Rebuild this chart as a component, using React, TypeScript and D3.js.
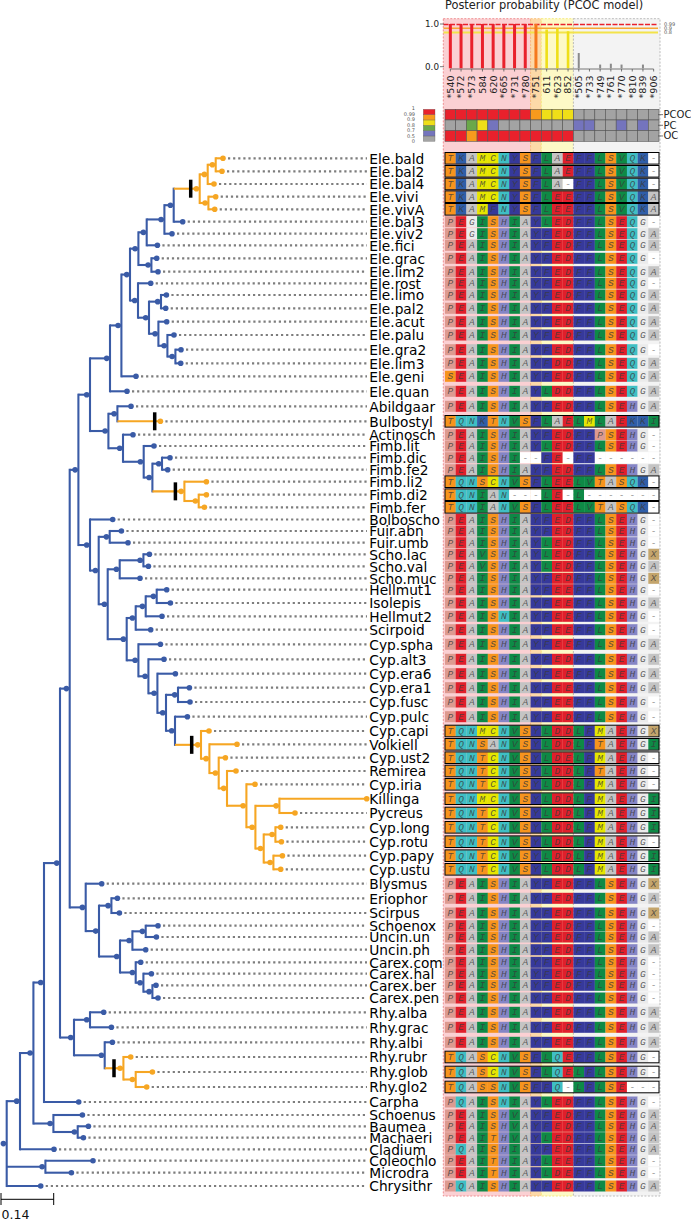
import React from "react";
import * as d3 from "d3";

// ---------- alignment rows ----------
const taxa = ["Ele.bald","Ele.bal2","Ele.bal4","Ele.vivi","Ele.vivA","Ele.bal3","Ele.viv2","Ele.fici","Ele.grac","Ele.lim2","Ele.rost","Ele.limo","Ele.pal2","Ele.acut","Ele.palu","Ele.gra2","Ele.lim3","Ele.geni","Ele.quan","Abildgaar","Bulbostyl","Actinosch","Fimb.lit","Fimb.dic","Fimb.fe2","Fimb.li2","Fimb.di2","Fimb.fer","Bolboscho","Fuir.abn","Fuir.umb","Scho.lac","Scho.val","Scho.muc","Hellmut1","Isolepis","Hellmut2","Scirpoid","Cyp.spha","Cyp.alt3","Cyp.era6","Cyp.era1","Cyp.fusc","Cyp.pulc","Cyp.capi","Volkiell","Cyp.ust2","Remirea","Cyp.iria","Killinga","Pycreus","Cyp.long","Cyp.rotu","Cyp.papy","Cyp.ustu","Blysmus","Eriophor","Scirpus","Schoenox","Uncin.un","Uncin.ph","Carex.com","Carex.hal","Carex.ber","Carex.pen","Rhy.alba","Rhy.grac","Rhy.albi","Rhy.rubr","Rhy.glob","Rhy.glo2","Carpha","Schoenus","Baumea","Machaeri","Cladium","Coleochlo","Microdra","Chrysithr"];

const taxonRows = [158.3,171.3,184,196.7,209.3,221.7,233.7,245.3,258.3,271.7,283.3,295,308.3,321.7,335,349.7,363.3,376.3,391.3,406.3,421.3,434.7,446,457.7,469.7,481.7,494.7,507.3,519.5,531,542.7,554.3,566.3,578.3,589.7,603,616.3,629.7,644.3,659.3,673.7,687.7,702,716.7,731,744.3,757.7,771,784.3,798.7,813,827.3,841.7,855.7,869.3,883.7,898.3,913,925.7,937,949.7,962.3,973.7,985.3,998,1012.3,1027.3,1042.3,1057,1072,1087,1102,1115,1126.3,1137.7,1149.3,1160.7,1172.7,1186];

const sequences = ["TKAMCNYSFLAEFFLSVQK-","TKAMCNYSFLAEFFLSVQK-","TKAMCNYSFLA-FFLSVQK-","TKAMCNYSFLEEFFLSVQKA","TKAMFNYSFLEEFFLSVQKA","PEGISHIAYLEDFFLSEQG-","PEGISHIAYFEDFFLSEQGA","PEAISHIAYFEDFFLSEQGA","PEAISHIAYFEDFFLSEQG-","PEAISHIAYFEDFFLSEQGA","PEAISHIAYFEDFFLSEQG-","PEAISHIAYFEDFFLSEQGA","PEAISHIAYFEDFFLSEQGA","PEAISHIAYFEDFFLSEQGA","PEAISHIAYFEDFFLSEQGA","PEAISHIAYFEDFFLSEQG-","PEAISHIAYFDDFFLSEQGA","SEAISHIAYFEDFFLSEQGA","PEAISHIAYLDDFFLSEQGA","PEAISHIAYFEDFFLSEHGA","TQNKTNVSFLAELMLAEKKI","PEAISHIAYFEDFFPSEHG-","PEAISHIAYLEDFFLSEHG-","PEAISHI--FE-FF------","PEAISHIAYFEDFFLSEHGA","TQNSCNVSFLEELVTASQK-","TQNIAN---LE-L-------","TQNIANVSFLEELVTASQK-","PEAISHIAYFEDFFLSEHG-","PEAISHIAYFEDFFLSEHG-","PEAISHIAYLEDFFLSEHG-","PEAVSHIAYLEDFFLSEHGX","PEAVSHIAYLEDFFLSEHGA","PEAISHIAYFEDFFLSEHGX","PEAISHIAYFEEFFLSEHG-","PEAISHIAYFEEFFLSEHGA","PEAISNIAYFEEFFLSEHG-","PEAISHIAYFEEFFLSEHG-","PEAISHIAYFEEFFLSEHGA","PEAISHIAYFEDFFLSEHGA","PEAISHIAYFEEFFLSEHGA","PEAISHIAYFEEFFLSEHGA","PEAISHIAYFEEFFLSEHG-","PEAISHIAYFEDFFLSEHG-","TQNMCNVSYLDDLFMAEHGX","TQNSANVSYLDDLFTAEHGI","TQNTCNVSYLDELFMAEHG-","TQNTCNVSYLDDLFTAEHG-","TQNTCNVSYLDDLFMAEHG-","TQNMCNVSYLDDLFMAEHGI","TQNTCNVSYLDDLFMAEHGI","TQNTCNVSYLDDLFMAEHGI","TQNTCNVSYLDDLFMAEHG-","TQNTCNVSYLDDLFMAEHGI","TQNTCNVSYLDDLFMAEHGI","PEAISHIAYFEDFFLSEHGX","PEAISHIAYFEDFFLSEHGA","PEAISHIAYFEDFFLSEHGX","PEAISHIAYFEDFFLSEHG-","PEAISHIAYFEDFFLSEHGA","PEAISHIAYFEDFFLSEHGA","PEAISHIAYFEDFFLSEHG-","PEAISHIAYFEDFFLSEHG-","PEAISHIAYFEDFFLSEHG-","PEAISHIAYFEDFFLSEHG-","PEAISHIAYFEDFFLSEHGA","PEAISHIAYFEDFFLSEHGA","PEAISHIAYFEEFFLSEHGA","TQASCNVSFLQEFFLSEHG-","TQASCNVSFLQELFLSEHG-","TQASSNVSFFQ-LFLSE---","PQAISNIAYLEDFFLSEHG-","PEAISHVAYFEDFFLSEHGA","PEAISHVAYFEDFFLSEHGA","PEAITHVAYLEDFFLSEHGA","PQAISHIAYFEDFFLSEHGA","PEAITHIAYLEEFFLSEHG-","PEAITHIAYLDEFFLSEHG-","PQAISHIAYFEDFFLSEHGA"];

// ---------- site panels ----------
const sites = ["*540","*572","*573","584","620","*665","*731","*780","*751","611","*623","852","*505","*733","*749","*761","*770","*810","*839","*906"];
const posterior = [1,1,1,1,1,1,1,1,1,0.87,0.9,0.83,0.32,0,0.05,0.07,0.05,0,0.05,0];
const pcocScore = [1,1,1,1,1,1,1,1,0.95,0.85,0.85,0.85,0.2,0.2,0.2,0.2,0.2,0.2,0.2,0.2];
const pcScore = [0.2,0.2,0.75,0.85,0.6,0.2,0.2,0.2,0.2,0.2,0.2,0.2,0.6,0.6,0.2,0.2,0.6,0.2,0.6,0.2];
const ocScore = [1,1,0.95,1,1,1,1,1,1,1,1,1,0.2,0.2,0.2,0.2,0.2,0.2,0.2,0.2];
const modelRows = ["PCOC","PC","OC"];
const thresholds = [0.99,0.9,0.8];
const legendBreaks = ["1","0.99","0.9","0.8","0.7","0.5","0"];
const scoreCuts = [0.5,0.7,0.8,0.9,0.99];
const scoreColours = ["#a3a3a3","#7474bd","#6aa84a","#efdf18","#f79a1d","#e9212c"];
const thresholdColours = ["#e9212c","#f7a632","#f3e34a"];
const siteBands = [
  { from: 0, to: 8, fill: "#fbd0d3", edge: "#ee8f92" },
  { from: 8, to: 9, fill: "#fdd9a8", edge: "#f9c07a" },
  { from: 9, to: 12, fill: "#fdf9c6", edge: "#f4e97e" },
  { from: 12, to: 20, fill: "#f3f3f3", edge: "#bcbcbc" },
];

const residueColours: Record<string, string> = {
  T: "#f7941d", S: "#f7941d", K: "#2f5ea8", A: "#c4c4c4", M: "#e6e600", C: "#e6e600",
  N: "#3fbfc4", Q: "#3fbfc4", Y: "#36399b", F: "#36399b", L: "#0e8a46", V: "#0e8a46",
  I: "#0e8a46", E: "#e01f2b", D: "#e01f2b", P: "#dd9a90", H: "#8585c5", G: "#ebebeb",
  X: "#c4a56c", "-": "#ffffff",
};

// ---------- tree: branch depth in scale units, 53 units = 0.14 substitutions ----------
type Node = { name?: string; depth: number; kids: Node[]; shift?: number; y?: number; fg?: boolean };
const L = (name: string, depth: number): Node => ({ name, depth, kids: [] });
const N = (depth: number, ...kids: Node[]): Node => ({ depth, kids });
const S = (shift: number, n: Node): Node => ({ ...n, shift });

const tree = N(6,
  N(19.3,
    N(32.7,
      N(43.3,
        N(59.3,
          N(69,
            N(77.7,
              N(89.3,
                N(109.3,
                  N(120.7,
                    N(129.3,
                      N(137.7,
                        N(146,
                          N(163.7,
                            N(173,
                              S(190, N(199,
                                N(207, N(215, L("Ele.bald",222.3), L("Ele.bal2",221.3)), L("Ele.bal4",213.3)),
                                N(207.7, L("Ele.vivi",215), L("Ele.vivA",214)))),
                              L("Ele.bal3",182)),
                            L("Ele.viv2",171.3)),
                          L("Ele.fici",156.7)),
                        N(150.7, L("Ele.grac",156), L("Ele.lim2",157.3))),
                      N(137.3,
                        L("Ele.rost",150),
                        N(148.3,
                          N(160.3, L("Ele.limo",165.7), L("Ele.pal2",165)),
                          N(157.7,
                            L("Ele.acut",166),
                            N(166.7, L("Ele.palu",173.3),
                              N(174.7, L("Ele.gra2",180.3), L("Ele.lim3",180))))))),
                    L("Ele.geni",135.3)),
                  L("Ele.quan",126.3)),
                N(107.7,
                  N(116.7, L("Abildgaar",130.3), S(154, L("Bulbostyl",159.7))),
                  N(122.3,
                    L("Actinosch",132.3),
                    N(143,
                      L("Fimb.lit",153.3),
                      N(151.7,
                        N(161.3, L("Fimb.dic",169.3), L("Fimb.fe2",167)),
                        S(174.7, N(183.7,
                          L("Fimb.li2",205.7),
                          N(198, L("Fimb.di2",205.7), L("Fimb.fer",203.7))))))))),
              N(89.3,
                L("Bolboscho",112),
                N(98,
                  N(109, L("Fuir.abn",120.7), L("Fuir.umb",127.3)),
                  N(107,
                    N(119, N(142.7, L("Scho.lac",148.7), L("Scho.val",147.7)), L("Scho.muc",139.3)),
                    N(126,
                      N(135,
                        N(145, N(156, L("Hellmut1",166), L("Isolepis",169.7)), L("Hellmut2",161.3)),
                        L("Scirpoid",150)),
                      N(137.7,
                        L("Cyp.spha",159.7),
                        N(147.7,
                          L("Cyp.alt3",163.3),
                          N(156.7,
                            L("Cyp.era6",174.7),
                            N(165.3,
                              N(177.3, L("Cyp.era1",188.7), L("Cyp.fusc",189.3)),
                              N(174.3,
                                L("Cyp.pulc",186.7),
                                S(191, N(200.3,
                                  L("Cyp.capi",208.3),
                                  N(208.7,
                                    L("Volkiell",236.3),
                                    N(218,
                                      L("Cyp.ust2",224.7),
                                      N(226.3,
                                        L("Remirea",235.3),
                                        N(245.7,
                                          L("Cyp.iria",254.3),
                                          N(254.7,
                                            N(278.7, L("Killinga",366), L("Pycreus",294.3)),
                                            N(263,
                                              N(274.7, L("Cyp.long",280), L("Cyp.rotu",280.7)),
                                              N(272.7, L("Cyp.papy",281.7), L("Cyp.ustu",280)))))))))))))))))))),
            N(85,
              L("Blysmus",101),
              N(98.3,
                N(110.7, L("Eriophor",116.7), L("Scirpus",118.7)),
                N(119.3,
                  N(131.7, N(145, L("Schoenox",157.3), L("Uncin.un",155.7)), L("Uncin.ph",145)),
                  N(135,
                    L("Carex.com",140),
                    N(142.7, L("Carex.hal",150.7), N(151.7, L("Carex.ber",155.3), L("Carex.pen",157.3)))))))),
          N(73.3,
            N(89.3, L("Rhy.alba",103), L("Rhy.grac",110.7)),
            N(104,
              L("Rhy.albi",111.7),
              S(113.3, N(122.7, L("Rhy.rubr",130), N(135, L("Rhy.glob",151.7), L("Rhy.glo2",146))))))),
        L("Carpha",78)),
      N(52.7, L("Schoenus",81.7), N(77, L("Baumea",87.7), L("Machaeri",82.7)))),
    L("Cladium",53.3)),
  N(44.7, L("Coleochlo",92.3), L("Microdra",70.7)),
  L("Chrysithr",40));

// ---------- scales ----------
const xTree = d3.scaleLinear().domain([0, 53]).range([0.7, 53.7]);
const yRow = d3.scaleLinear().domain([0, 1220]).range([0, 1220]);
const xSite = d3.scaleLinear().domain([0, 20]).range([445, 659]);
const yPost = d3.scaleLinear().domain([0, 1]).range([66.7, 24]);
const yModel = d3.scaleBand<string>().domain(modelRows).range([109.3, 141.3]);
const yLegend = d3.scaleBand<string>().domain(scoreColours.slice().reverse()).range([109.3, 141.3]);
const yLegendLabel = d3.scalePoint<string>().domain(legendBreaks).range([108.5, 141.5]);
const scoreColour = d3.scaleThreshold<number, string>().domain(scoreCuts).range(scoreColours);

const BLUE = "#3a5ba6";
const ORANGE = "#f6a623";
const DOT_BACK = 3.3;
const LEAF_END = 367;
const CELL_H = 11;
const SANS = "'DejaVu Sans', sans-serif";
const BRANCH_W = 2.1;

function layout(n: Node, fg: boolean) {
  n.fg = fg || n.shift !== undefined;
  if (n.kids.length === 0) {
    n.y = yRow(taxonRows[taxa.indexOf(n.name!)]);
  } else {
    n.kids.forEach((k) => layout(k, n.fg!));
    const ys = n.kids.map((k) => k.y!);
    n.y = ((d3.min(ys) as number) + (d3.max(ys) as number)) / 2;
  }
}
layout(tree, false);

function flatten(n: Node, out: Node[] = []): Node[] {
  out.push(n);
  n.kids.forEach((k) => flatten(k, out));
  return out;
}

function Branches({ n }: { n: Node }) {
  const px = xTree(n.depth);
  const lines: React.ReactNode[] = [];
  if (n.kids.length) {
    const ys = n.kids.map((k) => k.y!);
    lines.push(<line key="v" x1={px} x2={px} y1={d3.min(ys)! - BRANCH_W / 2} y2={d3.max(ys)! + BRANCH_W / 2} stroke={n.fg ? ORANGE : BLUE} strokeWidth={BRANCH_W} />);
    n.kids.forEach((k, i) => {
      lines.push(<line key={"h" + i} x1={px} x2={xTree(k.depth)} y1={k.y} y2={k.y} stroke={k.fg ? ORANGE : BLUE} strokeWidth={BRANCH_W} />);
      lines.push(<Branches key={"k" + i} n={k} />);
    });
  }
  return <>{lines}</>;
}

export default function App() {
  const all = flatten(tree);
  const leaves = all.filter((n) => n.kids.length === 0);
  const cw = xSite(1) - xSite(0);
  return (
    <svg width={691} height={1220} style={{ position: "absolute", left: 0, top: 0, display: "block", background: "#fff" }}>
      {/* site bands */}
      {siteBands.map((b, i) => (
        <rect key={i} x={xSite(b.from) - (i === 0 ? 1.7 : 0)} y={18.7} width={xSite(b.to) - xSite(b.from) + (i === 0 ? 1.7 : 0) + (i === 3 ? 1 : 0)} height={1177.3}
          fill={b.fill} stroke={b.edge} strokeWidth={1} strokeDasharray="2 1.5" />
      ))}

      {/* tree */}
      <line x1={xTree(2.6)} x2={xTree(tree.depth)} y1={tree.y} y2={tree.y} stroke={BLUE} strokeWidth={BRANCH_W} />
      {leaves.filter((l) => xTree(l.depth) + 4 < LEAF_END).map((l) => (
        <line key={l.name} x1={xTree(l.depth) + 5} x2={LEAF_END} y1={l.y} y2={l.y} stroke="#7d7d7d" strokeWidth={2.2} strokeDasharray="2.2 2.9" />
      ))}
      <Branches n={tree} />
      {all.map((n, i) => (
        <circle key={i} cx={n.kids.length ? xTree(n.depth) - DOT_BACK : xTree(n.depth)} cy={n.y} r={2.8} fill={n.fg ? ORANGE : BLUE} />
      ))}
      {all.filter((n) => n.shift !== undefined).map((n, i) => (
        <line key={i} x1={xTree(n.shift!)} x2={xTree(n.shift!)} y1={n.y! - 9} y2={n.y! + 9} stroke="#000" strokeWidth={3.5} />
      ))}

      {/* taxon labels */}
      {taxa.map((t, i) => (
        <text key={t} x={369.3} y={yRow(taxonRows[i]) + 5.2} fontFamily={SANS} fontSize={13.75} fill="#000">{t}</text>
      ))}

      {/* alignment */}
      {sequences.map((seq, r) => {
        const cy = yRow(taxonRows[r]);
        return (
          <g key={r}>
            {seq.split("").map((res, c) => (
              <g key={c}>
                <rect x={xSite(c)} y={cy - CELL_H / 2} width={cw + 0.1} height={CELL_H} fill={residueColours[res]} />
                <text x={xSite(c) + cw / 2} y={cy + 3} textAnchor="middle" fontFamily="'Liberation Mono', monospace" fontStyle="italic" fontSize={9.5} fill="#3a3a3a" fillOpacity={0.8}>{res}</text>
              </g>
            ))}
            {seq[0] === "T" && (
              <rect x={xSite(0)} y={cy - CELL_H / 2 - 0.3} width={xSite(20) - xSite(0)} height={CELL_H + 0.6} fill="none" stroke="#000" strokeWidth={1} />
            )}
          </g>
        );
      })}

      {/* posterior panel */}
      <text x={445} y={9} fontFamily={SANS} fontSize={11.4} fill="#222">Posterior probability (PCOC model)</text>
      {thresholds.map((t, i) => (
        <g key={t}>
          <line x1={443.5} x2={658} y1={yPost(t)} y2={yPost(t)} stroke={thresholdColours[i]} strokeWidth={i === 2 ? 2 : 1.4} strokeDasharray={i === 0 ? "5 1.5" : undefined} />
          <text x={664} y={yPost(t) + 1.8} fontFamily={SANS} fontSize={5} fill="#555">{t}</text>
        </g>
      ))}
      {posterior.map((v, i) => v > 0 && (
        <rect key={i} x={xSite(i) + cw / 2 - (v >= 0.99 ? 1.5 : i < 12 ? 1.3 : 1)} width={v >= 0.99 ? 3 : i < 12 ? 2.6 : 2} y={yPost(v)} height={yPost(0) - yPost(v) + 1.6}
          fill={i < 8 ? "#e9212c" : i === 8 ? "#f5781e" : i < 12 ? "#efdf18" : "#8a8a8a"} />
      ))}
      {[0, 1].map((t) => (
        <g key={t}>
          <line x1={440} x2={444} y1={yPost(t)} y2={yPost(t)} stroke="#555" strokeWidth={0.8} />
          <text x={439} y={yPost(t) + 3.2} textAnchor="end" fontFamily={SANS} fontSize={8.8} fill="#222">{t.toFixed(1)}</text>
        </g>
      ))}
      <line x1={xSite(0.5)} x2={xSite(19.5)} y1={69} y2={69} stroke="#555" strokeWidth={0.8} />
      {sites.map((s, i) => {
        const x = xSite(i) + cw / 2;
        return (
          <g key={s}>
            <line x1={x} x2={x} y1={69} y2={71.5} stroke="#555" strokeWidth={0.8} />
            <text transform={`translate(${x + 3.4},75.5) rotate(-90)`} textAnchor="end" fontFamily={SANS} fontSize={9.5} fill="#222">{s}</text>
          </g>
        );
      })}

      {/* model heatmap */}
      {[pcocScore, pcScore, ocScore].map((row, r) => (
        <g key={r}>
          {row.map((v, i) => (
            <rect key={i} x={xSite(i)} y={yModel(modelRows[r])} width={cw} height={yModel.bandwidth()} fill={scoreColour(v)} stroke="#555" strokeWidth={0.6} />
          ))}
          <line x1={658} x2={663} y1={yModel(modelRows[r])! + yModel.bandwidth() / 2} y2={yModel(modelRows[r])! + yModel.bandwidth() / 2} stroke="#555" strokeWidth={0.8} />
          <text x={663.5} y={yModel(modelRows[r])! + yModel.bandwidth() / 2 + 3.5} fontFamily={SANS} fontSize={10} fill="#222">{modelRows[r]}</text>
        </g>
      ))}

      {/* score legend */}
      {scoreColours.map((c) => (
        <rect key={c} x={423.3} y={yLegend(c)} width={11.7} height={yLegend.bandwidth()} fill={c} stroke="#555" strokeWidth={0.3} />
      ))}
      {legendBreaks.map((b) => (
        <text key={b} x={415} y={yLegendLabel(b)! + 1.8} textAnchor="end" fontFamily={SANS} fontSize={5} fill="#555">{b}</text>
      ))}

      {/* scale bar */}
      <g stroke="#000" strokeWidth={1}>
        <line x1={xTree(0.3)} x2={xTree(53)} y1={1199.3} y2={1199.3} />
        <line x1={xTree(0.3)} x2={xTree(0.3)} y1={1193} y2={1205} />
        <line x1={xTree(53)} x2={xTree(53)} y1={1193} y2={1205} />
      </g>
      <text x={1.5} y={1219} fontFamily={SANS} fontSize={12.5} fill="#111">0.14</text>
    </svg>
  );
}
